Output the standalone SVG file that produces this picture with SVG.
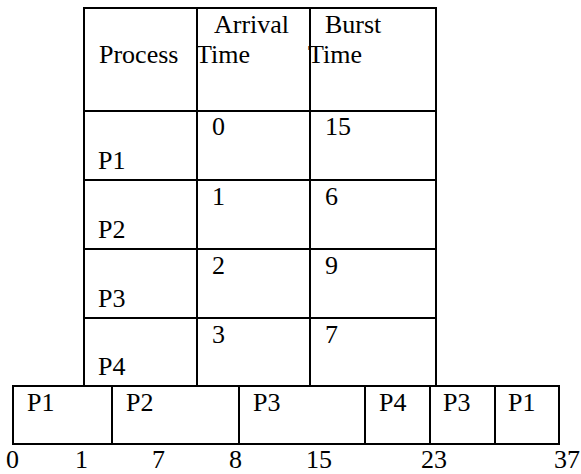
<svg xmlns="http://www.w3.org/2000/svg" width="581" height="474" viewBox="0 0 581 474">
<style>
  .ln { stroke: #000; stroke-width: 2; fill: none; }
  text { font-family: "Liberation Serif", "Times New Roman", serif; font-size: 26px; fill: #000; }
</style>
<rect width="581" height="474" fill="#fff"/>
<g id="table">
  <line class="ln" x1="84" y1="8" x2="436" y2="8"/>
  <line class="ln" x1="84" y1="111" x2="436" y2="111"/>
  <line class="ln" x1="84" y1="180" x2="436" y2="180"/>
  <line class="ln" x1="84" y1="249" x2="436" y2="249"/>
  <line class="ln" x1="84" y1="318" x2="436" y2="318"/>
  <line class="ln" x1="84" y1="7" x2="84" y2="386"/>
  <line class="ln" x1="197" y1="7" x2="197" y2="386"/>
  <line class="ln" x1="310" y1="7" x2="310" y2="386"/>
  <line class="ln" x1="436" y1="7" x2="436" y2="386"/>
  <text x="214" y="33">Arrival</text>
  <text x="325" y="33">Burst</text>
  <text x="99" y="63">Process</text>
  <text x="196" y="63">Time</text>
  <text x="308" y="63">Time</text>
  <text x="212" y="135">0</text>
  <text x="325" y="135">15</text>
  <text x="98" y="169">P1</text>
  <text x="212" y="205">1</text>
  <text x="325" y="205">6</text>
  <text x="98" y="238">P2</text>
  <text x="212" y="274">2</text>
  <text x="325" y="274">9</text>
  <text x="98" y="307">P3</text>
  <text x="212" y="343">3</text>
  <text x="325" y="343">7</text>
  <text x="98" y="375">P4</text>
</g>
<g id="gantt">
  <rect class="ln" x="13" y="386" width="546" height="58"/>
  <line class="ln" x1="112" y1="386" x2="112" y2="444"/>
  <line class="ln" x1="239" y1="386" x2="239" y2="444"/>
  <line class="ln" x1="365" y1="386" x2="365" y2="444"/>
  <line class="ln" x1="430" y1="386" x2="430" y2="444"/>
  <line class="ln" x1="495" y1="386" x2="495" y2="444"/>
  <text x="27" y="411">P1</text>
  <text x="126" y="411">P2</text>
  <text x="253" y="411">P3</text>
  <text x="379" y="411">P4</text>
  <text x="443" y="411">P3</text>
  <text x="508" y="411">P1</text>
</g>
<g id="axis">
  <text x="6" y="468">0</text>
  <text x="75" y="468">1</text>
  <text x="152" y="468">7</text>
  <text x="229" y="468">8</text>
  <text x="306" y="468">15</text>
  <text x="421" y="468">23</text>
  <text x="554" y="468">37</text>
</g>
</svg>
